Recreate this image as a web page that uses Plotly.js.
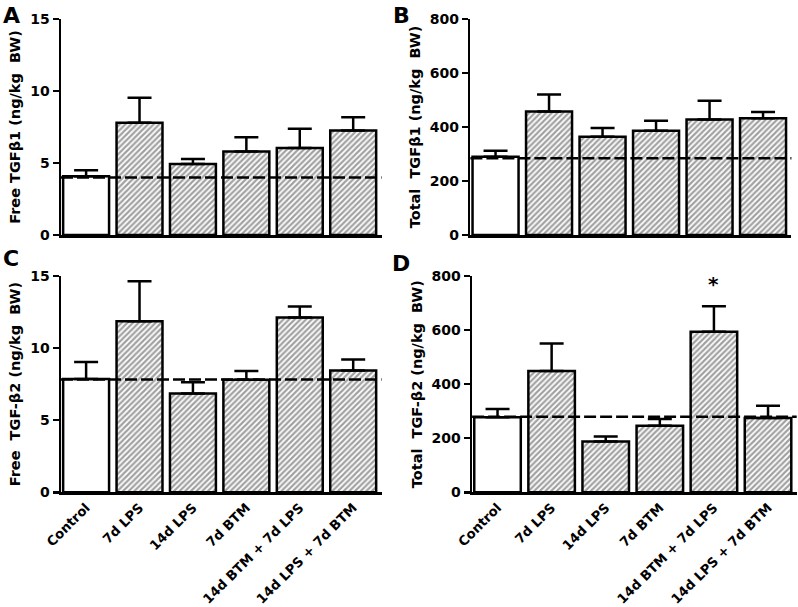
<!DOCTYPE html>
<html>
<head>
<meta charset="utf-8">
<script src="https://cdn.plot.ly/plotly-3.0.1.min.js"></script>
<style>html,body{margin:0;padding:0;background:#fff;}#chart{width:798px;height:607px;}</style>
</head>
<body>
<div id="chart"></div>
<script>
// ---- data ----
const categories = ["Control", "7d LPS", "14d LPS", "7d BTM", "14d BTM + 7d LPS", "14d LPS + 7d BTM"];

const freeTGFb1 = [4.08, 7.8, 4.93, 5.8, 6.04, 7.25];
const freeTGFb1Err = [0.42, 1.73, 0.35, 0.98, 1.34, 0.92];
const freeTGFb1Ref = [4.0];

const totalTGFb1 = [290, 457, 364, 386, 428, 432];
const totalTGFb1Err = [22, 63, 32, 37, 69, 24];
const totalTGFb1Ref = [284];

const freeTGFb2 = [7.85, 11.87, 6.85, 7.8, 12.13, 8.45];
const freeTGFb2Err = [1.18, 2.76, 0.79, 0.62, 0.76, 0.76];
const freeTGFb2Ref = [7.82];

const totalTGFb2 = [278, 449, 188, 246, 594, 275];
const totalTGFb2Err = [30, 101, 18, 25, 94, 45];
const totalTGFb2Ref = [279];
const totalTGFb2Sig = ["", "", "", "", "*", ""];

const yTicksFree = [0, 5, 10, 15];
const yTicksTotal = [0, 200, 400, 600, 800];

// ---- styling ----
const FONT = "DejaVu Sans";
const fillColors = categories.map(() => "#ffffff");
const patternShapes = categories.map((c, i) => i === 0 ? "" : "/");

function barTrace(vals, errs, ax) {
  return {
    type: "bar",
    x: categories,
    y: vals,
    xaxis: "x" + ax,
    yaxis: "y" + ax,
    width: 0.86,
    marker: {
      color: fillColors,
      line: {color: "#000", width: 2.5},
      pattern: {shape: patternShapes, fgcolor: "#000", bgcolor: "#fff", size: 4, solidity: 0.55, fillmode: "overlay"}
    },
    error_y: {
      type: "data", array: errs, arrayminus: errs.map(() => 0), symmetric: false,
      color: "#000", thickness: 2.5, width: 12
    },
    showlegend: false,
    hoverinfo: "x+y"
  };
}

const traces = [
  barTrace(freeTGFb1, freeTGFb1Err, ""),
  barTrace(totalTGFb1, totalTGFb1Err, "2"),
  barTrace(freeTGFb2, freeTGFb2Err, "3"),
  barTrace(totalTGFb2, totalTGFb2Err, "4")
];

function xAxis(domain, showLabels) {
  return {
    domain: domain,
    range: [-0.47, 5.53],
    showline: true, linecolor: "#000", linewidth: 2.5,
    ticks: "", showticklabels: showLabels,
    tickangle: -45,
    tickfont: {family: FONT, size: 13.2, color: "#000", weight: "bold"},
    showgrid: false, zeroline: false, fixedrange: true
  };
}
function yAxis(domain, range, tickvals, title, anchor) {
  return {
    domain: domain,
    anchor: anchor,
    range: range,
    tickmode: "array", tickvals: tickvals,
    showline: true, linecolor: "#000", linewidth: 2.5,
    ticks: "outside", ticklen: 6, tickwidth: 2.5, tickcolor: "#000",
    tickfont: {family: FONT, size: 14, color: "#000", weight: "bold"},
    title: {text: title, font: {family: FONT, size: 14.5, color: "#000", weight: "bold"}, standoff: 6},
    showgrid: false, zeroline: false, fixedrange: true
  };
}

const yTop = [1 - 235/607, 1 - 19/607];
const yBot = [1 - 492.3/607, 1 - 276/607];

const refLines = [
  {ref: freeTGFb1Ref, ax: ""},
  {ref: totalTGFb1Ref, ax: "2"},
  {ref: freeTGFb2Ref, ax: "3"},
  {ref: totalTGFb2Ref, ax: "4"}
];
const shapes = refLines.map(r => ({
  type: "line", xref: "x" + r.ax + " domain", yref: "y" + r.ax,
  x0: 0, x1: 1, y0: r.ref[0], y1: r.ref[0],
  line: {color: "#000", width: 2.5, dash: "12px,4px"},
  layer: "above"
}));

const panelLetters = ["A", "B", "C", "D"];
const letterPos = [[1, 1], [391, 1], [1, 244], [390, 249]];
const annotations = panelLetters.map((t, i) => ({
  text: t, xref: "paper", yref: "paper",
  x: letterPos[i][0] / 798, y: 1 - letterPos[i][1] / 607,
  xanchor: "left", yanchor: "top", showarrow: false,
  font: {family: FONT, size: 22, color: "#000", weight: "bold"}
}));
totalTGFb2Sig.forEach((s, i) => {
  if (s) annotations.push({
    text: s, xref: "x4", yref: "y4",
    x: categories[i], y: totalTGFb2[i] + totalTGFb2Err[i],
    xanchor: "center", yanchor: "bottom", yshift: 8, showarrow: false,
    font: {family: FONT, size: 20, color: "#000", weight: "bold"}
  });
});

const layout = {
  width: 798, height: 607,
  margin: {l: 0, r: 0, t: 0, b: 0},
  paper_bgcolor: "#fff", plot_bgcolor: "#fff",
  showlegend: false,
  xaxis: xAxis([61/798, 381.5/798], false),
  yaxis: yAxis(yTop, [0, 15], yTicksFree, "Free TGFβ1 (ng/kg\u00a0 BW)", "x"),
  xaxis2: Object.assign(xAxis([470.4/798, 791.4/798], false), {anchor: "y2"}),
  yaxis2: yAxis(yTop, [0, 800], yTicksTotal, "Total\u00a0 TGFβ1 (ng/kg\u00a0 BW)", "x2"),
  xaxis3: Object.assign(xAxis([61/798, 381.5/798], true), {anchor: "y3"}),
  yaxis3: yAxis(yBot, [0, 15], yTicksFree, "Free\u00a0 TGF-β2 (ng/kg\u00a0 BW)", "x3"),
  xaxis4: Object.assign(xAxis([472.1/798, 796.7/798], true), {anchor: "y4"}),
  yaxis4: yAxis(yBot, [0, 800], yTicksTotal, "Total\u00a0 TGF-β2 (ng/kg\u00a0 BW)", "x4"),
  shapes: shapes,
  annotations: annotations
};

Plotly.newPlot("chart", traces, layout, {displayModeBar: false, staticPlot: true});
</script>
</body>
</html>
